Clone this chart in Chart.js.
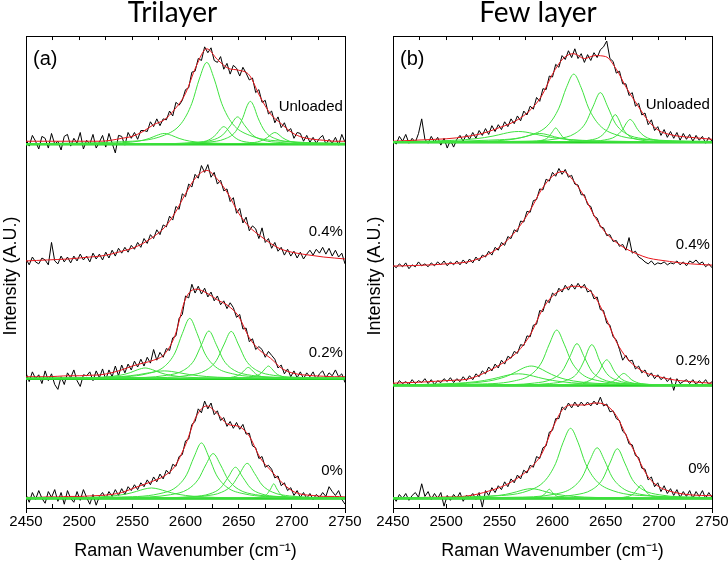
<!DOCTYPE html>
<html>
<head>
<meta charset="utf-8">
<script src="https://cdn.jsdelivr.net/npm/chart.js@4.4.0/dist/chart.umd.min.js"></script>
<style>
  html, body { margin: 0; padding: 0; background: #ffffff; overflow: hidden; }
  #wrap { position: relative; width: 728px; height: 567px; overflow: hidden; }
  canvas { position: absolute; top: 0; }
  #trilayer { left: 0; }
  #fewlayer { left: 364px; }
</style>
</head>
<body>
<div id="wrap">
  <canvas id="trilayer" width="384" height="567"></canvas>
  <canvas id="fewlayer" width="376" height="567"></canvas>
</div>
<script>
// raw spectra are sampled every 3 cm-1, fits every 10 cm-1
var wavenumber = [2450,2453,2456,2459,2462,2465,2468,2471,2474,2477,
    2480,2483,2486,2489,2492,2495,2498,2501,2504,2507,
    2510,2513,2516,2519,2522,2525,2528,2531,2534,2537,
    2540,2543,2546,2549,2552,2555,2558,2561,2564,2567,
    2570,2573,2576,2579,2582,2585,2588,2591,2594,2597,
    2600,2603,2606,2609,2612,2615,2618,2621,2624,2627,
    2630,2633,2636,2639,2642,2645,2648,2651,2654,2657,
    2660,2663,2666,2669,2672,2675,2678,2681,2684,2687,
    2690,2693,2696,2699,2702,2705,2708,2711,2714,2717,
    2720,2723,2726,2729,2732,2735,2738,2741,2744,2747,2750];
var fitWavenumber = [2450,2460,2470,2480,2490,2500,2510,2520,2530,2540,2550,2560,2570,2580,2590,2600,
    2610,2620,2630,2640,2650,2660,2670,2680,2690,2700,2710,2720,2730,2740,2750];

var strainLabels = ['Unloaded', '0.4%', '0.2%', '0%'];
var xTickLabels = [2450, 2500, 2550, 2600, 2650, 2700, 2750];

// vertical offsets of the stacked spectra (A.U.)
var trilayerOffsets = [378, 257, 137, 14];
var fewLayerOffsets = [380, 250, 130, 14];
var trilayerLabelHeights = [38, 31, 27, 28];
var fewLayerLabelHeights = [38, 25, 25, 30];

/* Trilayer */
var triUnloaded = [5,-2,9,3,-5,8,6,-4,11,0,3,-6,8,10,-2,6,1,12,-5,4,0,10,-4,2,9,-3,11,1,-9,9,
    8,-1,12,6,12,5,14,14,13,23,18,26,19,26,25,34,29,43,40,45,56,58,74,75,88,86,100,94,99,86,
    84,90,77,83,72,81,78,70,79,73,66,68,53,56,43,45,31,34,22,28,17,22,13,16,6,12,11,3,9,2,
    7,1,6,9,0,5,1,7,-1,10,2];
var triUnloadedFit = [3,3,3,3,3,3,3,3,4,6,8,13,20,25,36,52,80,98,87,78,76,71,49,31,21,12,7,5,4,3,3];
var triUnloadedPeaks = [
    [[2450,0.1],[2500,0.4],[2540,1.4],[2556,3.1],[2566,5.9],[2573,9],[2580,11],[2587,9],[2594,5.9],[2604,3.1],[2620,1.4],[2660,0.4],[2750,0.1]],
    [[2450,0.6],[2540,2.5],[2580,9.2],[2596,21.3],[2606,42],[2613,67],[2620,84],[2627,67],[2634,42],[2644,21.3],[2660,9.2],[2700,2.5],[2750,1]],
    [[2450,0],[2556,0.2],[2596,0.7],[2612,1.8],[2622,4.4],[2629,10.2],[2633,15.8],[2636,18],[2639,15.8],[2643,10.2],[2650,4.4],[2660,1.8],[2676,0.7],[2716,0.2],[2750,0.1]],
    [[2450,0.1],[2569,0.4],[2609,1.7],[2625,4.1],[2635,9.5],[2642,18.8],[2649,28],[2656,18.8],[2663,9.5],[2673,4.1],[2689,1.7],[2729,0.4],[2750,0.3]],
    [[2450,0.1],[2581,0.6],[2621,2.1],[2637,5.4],[2647,12.8],[2654,27.4],[2658,39.6],[2661,44],[2664,39.6],[2668,27.4],[2675,12.8],[2685,5.4],[2701,2.1],[2741,0.6],[2750,0.4]],
    [[2450,0],[2604,0.1],[2644,0.5],[2660,1.2],[2670,3],[2677,6.8],[2681,10.5],[2684,12],[2687,10.5],[2691,6.8],[2698,3],[2708,1.2],[2724,0.5],[2750,0.2]]
];

var tri04 = [3,-3,5,0,-2,4,2,-3,20,1,-2,6,0,5,-1,6,1,8,2,6,0,9,3,8,2,10,4,12,6,14,
    9,15,10,17,13,20,15,24,19,28,24,33,28,38,36,47,43,57,54,70,67,80,77,90,86,99,92,100,87,92,
    80,84,73,75,62,66,50,55,40,46,32,37,34,24,35,20,24,14,20,11,15,7,13,6,11,4,10,3,8,12,
    7,13,9,15,8,14,6,12,5,9,-2];
var tri04Fit = [1,1.5,2,2.5,3,4,5,6,8,11,14,19,26,35,50,70,87,94,85,70,50,36,27,19,13,10,8,6.5,5,4,3];

var tri02 = [6,-3,7,0,4,-5,8,-2,5,-6,-11,2,-6,6,1,9,-2,-8,4,3,7,-2,8,1,10,-1,9,2,13,3,
    14,6,15,9,18,12,20,13,22,16,30,19,27,22,31,29,42,44,62,66,85,83,97,88,95,87,93,84,89,80,
    85,76,80,72,78,73,63,66,51,52,38,41,30,33,30,22,28,24,20,11,14,5,10,2,8,1,7,0,6,2,
    7,-1,5,8,1,6,3,9,2,5,-4];
var tri02Fit = [2,2,2,2.5,3,3,3.5,4,6,9,13,16,19,25,44,82,92,88,81,75,64,42,29,21,11,6,4,3,2.5,2,2];
var tri02Peaks = [
    [[2450,0.2],[2482,0.4],[2522,1.5],[2538,3.4],[2548,6.2],[2555,9.2],[2562,11],[2569,9.2],[2576,6.2],[2586,3.4],[2602,1.5],[2642,0.4],[2750,0.1]],
    [[2450,0.3],[2500,0.7],[2540,2.2],[2556,4.2],[2566,6.1],[2573,7.4],[2580,8],[2587,7.4],[2594,6.1],[2604,4.2],[2620,2.2],[2660,0.7],[2750,0.2]],
    [[2450,0.4],[2524,1.4],[2564,5.1],[2580,12.4],[2590,26.3],[2597,46.3],[2604,62],[2611,46.3],[2618,26.3],[2628,12.4],[2644,5.1],[2684,1.4],[2750,0.4]],
    [[2450,0.2],[2542,0.9],[2582,3.4],[2598,8.5],[2608,18.7],[2615,34.9],[2622,49],[2629,34.9],[2636,18.7],[2646,8.5],[2662,3.4],[2702,0.9],[2750,0.4]],
    [[2450,0.2],[2563,0.9],[2603,3.4],[2619,8.5],[2629,18.6],[2636,34.6],[2643,48.6],[2650,34.6],[2657,18.6],[2667,8.5],[2683,3.4],[2723,0.9],[2750,0.5]],
    [[2450,0],[2579,0.1],[2619,0.3],[2635,0.7],[2645,1.8],[2652,4.9],[2656,9.3],[2659,11.6],[2662,9.3],[2666,4.9],[2673,1.8],[2683,0.7],[2699,0.3],[2739,0.1],[2750,0]],
    [[2450,0],[2598,0.1],[2638,0.3],[2654,0.8],[2664,2],[2671,5.5],[2675,10.4],[2678,13],[2681,10.4],[2685,5.5],[2692,2],[2702,0.8],[2718,0.3],[2750,0.1]]
];

var tri00 = [4,-4,6,-1,8,0,-5,7,1,9,-3,6,-6,8,0,-4,7,-2,9,1,-6,4,-7,2,6,0,7,2,9,3,
    10,4,12,8,14,9,16,12,19,14,22,17,25,20,29,25,35,33,43,45,59,61,76,79,92,88,100,92,98,86,
    90,80,83,74,79,72,78,71,76,66,67,54,52,41,43,32,34,30,21,23,13,16,8,11,3,8,1,6,0,5,
    -1,4,1,6,2,12,7,3,8,-1,-6];
var tri00Fit = [1,1,1.5,1.5,2,2,2.5,3,4,6,10,14,18,23,33,55,84,95,87,76,74,64,42,29,17,8,4,3,2,2,1.5];
var tri00Peaks = [
    [[2450,0.3],[2488,0.6],[2528,2.1],[2544,4.4],[2554,7.2],[2561,9.5],[2568,10.7],[2575,9.5],[2582,7.2],[2592,4.4],[2608,2.1],[2648,0.6],[2750,0.1]],
    [[2450,0.3],[2535,1.3],[2575,4.7],[2591,11.4],[2601,24.2],[2608,42.5],[2615,57],[2622,42.5],[2629,24.2],[2639,11.4],[2655,4.7],[2695,1.3],[2750,0.5]],
    [[2450,0.2],[2546,1],[2586,3.8],[2602,9.2],[2612,19.5],[2619,34.3],[2626,46],[2633,34.3],[2640,19.5],[2650,9.2],[2666,3.8],[2706,1],[2750,0.4]],
    [[2450,0.1],[2567,0.5],[2607,1.9],[2623,4.7],[2633,10.8],[2640,21.5],[2647,32],[2654,21.5],[2661,10.8],[2671,4.7],[2687,1.9],[2727,0.5],[2750,0.3]],
    [[2450,0.1],[2578,0.7],[2618,2.5],[2634,6.3],[2644,13.8],[2651,25.6],[2658,36],[2665,25.6],[2672,13.8],[2682,6.3],[2698,2.5],[2738,0.7],[2750,0.5]],
    [[2450,0],[2643,0.15],[2659,0.4],[2669,1.1],[2676,3.7],[2680,9.6],[2683,15],[2686,9.6],[2690,3.7],[2697,1.1],[2707,0.4],[2723,0.15],[2750,0.05]]
];

/* Few layer */
var fewUnloaded = [2,-2,6,1,8,-1,4,0,9,24,3,-1,6,0,5,-3,4,-6,2,-5,3,7,1,8,3,10,4,12,7,14,
    8,17,11,18,13,21,16,24,19,27,22,32,28,37,34,46,42,55,54,68,67,80,77,89,85,94,87,96,86,91,
    82,90,84,92,87,95,98,104,86,83,71,73,60,60,48,51,37,40,28,30,18,23,12,16,7,13,5,11,4,10,
    2,9,3,8,1,7,2,6,-1,5,1];
var fewUnloadedFit = [1,1.5,2,2.5,3,3.5,4.5,6,8,11,15,19,25,34,48,70,86,91,86,89,88,75,55,38,22,12,8,6,5,4,3];
var fewUnloadedPeaks = [
    [[2450,0.6],[2488,1.2],[2528,3.6],[2544,6.3],[2554,8.8],[2561,10.4],[2568,11],[2575,10.4],[2582,8.8],[2592,6.3],[2608,3.6],[2648,1.2],[2750,0.3]],
    [[2450,0.2],[2508,0.4],[2548,1.5],[2564,3.2],[2574,5.6],[2581,7.8],[2588,9],[2595,7.8],[2602,5.6],[2612,3.2],[2628,1.5],[2668,0.4],[2750,0.1]],
    [[2450,0],[2563,0.2],[2579,0.6],[2589,1.7],[2596,5],[2600,10.8],[2603,14.7],[2606,10.8],[2610,5],[2617,1.7],[2627,0.6],[2643,0.2],[2750,0]],
    [[2450,0.5],[2540,2.1],[2580,7.6],[2596,17.8],[2606,35],[2613,56],[2620,70],[2627,56],[2634,35],[2644,17.8],[2660,7.6],[2700,2.1],[2750,0.8]],
    [[2450,0.2],[2565,0.9],[2605,3.6],[2621,8.9],[2631,19.5],[2638,36.3],[2645,51],[2652,36.3],[2659,19.5],[2669,8.9],[2685,3.6],[2725,0.9],[2750,0.6]],
    [[2450,0],[2579,0.2],[2619,0.9],[2635,2.2],[2645,5.7],[2652,14.2],[2656,24],[2659,28.4],[2662,24],[2666,14.2],[2673,5.7],[2683,2.2],[2699,0.9],[2739,0.2],[2750,0.2]],
    [[2450,0],[2593,0.2],[2633,0.9],[2649,2.3],[2659,5.8],[2666,13.2],[2670,20.5],[2673,23.4],[2676,20.5],[2680,13.2],[2687,5.8],[2697,2.3],[2713,0.9],[2750,0.3]]
];

var few04 = [4,1,5,2,6,0,4,2,7,3,5,2,6,3,7,4,8,3,7,4,8,4,9,5,10,6,12,8,14,12,
    18,14,22,19,27,24,33,31,40,38,49,48,59,58,70,71,82,81,92,90,99,95,103,97,102,94,96,87,86,76,
    76,66,64,54,52,43,42,34,35,28,29,23,25,19,32,16,18,12,10,7,5,8,4,6,5,7,4,6,5,8,
    4,7,3,8,6,9,5,7,2,5,1];
var few04Fit = [2.7,3,3.3,3.7,4.2,5,5.7,7,10,15,22,32,45,62,82,95,100,90,74,53,37,27,20,15,11,9,7.5,6,5,4.3,3.7];

var few02 = [3,0,5,2,4,1,6,2,5,3,7,2,6,1,5,3,7,4,8,3,7,4,9,5,10,6,12,9,15,12,
    19,15,22,18,26,22,30,28,35,33,42,41,51,50,62,63,77,76,88,85,95,92,100,96,103,98,104,99,105,100,
    104,96,98,89,91,78,77,64,62,50,47,37,26,31,25,26,17,20,13,16,9,13,7,11,6,9,4,8,-5,7,
    2,4,6,2,6,1,5,2,6,1,4];
var few02Fit = [2.4,2.8,3.2,3.7,4.3,5,5.5,6.5,10,15,21,28,38,54,77,92,99,102,101,91,70,45,28,18,12,9,6.5,5,4,3,2.4];
var few02Peaks = [
    [[2450,0.6],[2488,1.3],[2528,3.9],[2544,6.9],[2554,9.6],[2561,11.3],[2568,12],[2575,11.3],[2582,9.6],[2592,6.9],[2608,3.9],[2648,1.3],[2750,0.3]],
    [[2450,0.6],[2500,1.4],[2540,4.6],[2556,9.1],[2566,14.2],[2573,18.2],[2580,20],[2587,18.2],[2594,14.2],[2604,9.1],[2620,4.6],[2660,1.4],[2750,0.3]],
    [[2450,0.3],[2524,1.3],[2564,4.7],[2580,11.4],[2590,24.2],[2597,42.5],[2604,57],[2611,42.5],[2618,24.2],[2628,11.4],[2644,4.7],[2684,1.3],[2750,0.4]],
    [[2450,0.1],[2543,0.6],[2583,2.5],[2599,6.4],[2609,14.5],[2616,28.9],[2623,43],[2630,28.9],[2637,14.5],[2647,6.4],[2663,2.5],[2703,0.6],[2750,0.2]],
    [[2450,0.1],[2557,0.5],[2597,2],[2613,5.2],[2623,12.3],[2630,26.2],[2634,37.8],[2637,42],[2640,37.8],[2644,26.2],[2651,12.3],[2661,5.2],[2677,2],[2717,0.5],[2750,0.3]],
    [[2450,0],[2571,0.3],[2611,1],[2627,2.6],[2637,6.5],[2644,14.9],[2648,23.2],[2651,26.4],[2654,23.2],[2658,14.9],[2665,6.5],[2675,2.6],[2691,1],[2731,0.3],[2750,0.2]],
    [[2450,0],[2587,0.1],[2627,0.4],[2643,1],[2653,2.5],[2660,6.2],[2664,10.5],[2667,12.4],[2670,10.5],[2674,6.2],[2681,2.5],[2691,1],[2707,0.4],[2750,0.1]]
];

var few00 = [2,-3,4,0,5,-2,3,6,1,15,2,7,-1,5,0,6,-8,3,-2,4,0,6,-3,3,1,5,-1,6,-9,8,
    3,11,6,13,9,17,12,20,16,24,20,29,26,34,32,43,41,52,54,68,70,82,82,94,91,98,93,99,94,99,
    95,99,95,100,96,104,95,97,89,90,82,80,69,66,56,55,44,42,31,30,19,22,12,16,7,13,5,10,3,9,
    1,7,2,8,0,7,2,8,0,6,1];
var few00Fit = [0.5,0.7,0.9,1,1.2,1.4,1.6,2.5,4.5,7.5,11,16,23,32,46,72,92,96,96,98,96,85,63,42,22,12,7.5,5,3.6,3,2.7];
var few00Peaks = [
    [[2450,0.2],[2500,0.6],[2540,2],[2556,4.1],[2566,6.7],[2573,8.9],[2580,10],[2587,8.9],[2594,6.7],[2604,4.1],[2620,2],[2660,0.6],[2750,0.1]],
    [[2450,0],[2557,0.1],[2573,0.25],[2583,0.7],[2590,2.3],[2594,6],[2597,9.4],[2600,6],[2604,2.3],[2611,0.7],[2621,0.25],[2637,0.1],[2750,0]],
    [[2450,0.5],[2537,2.2],[2577,7.8],[2593,18.3],[2603,36],[2610,57.6],[2617,72],[2624,57.6],[2631,36],[2641,18.3],[2657,7.8],[2697,2.2],[2750,0.8]],
    [[2450,0.2],[2562,1.1],[2602,4.3],[2618,10.4],[2628,22],[2635,38.8],[2642,52],[2649,38.8],[2656,22],[2666,10.4],[2682,4.3],[2722,1.1],[2750,0.6]],
    [[2450,0.1],[2581,0.9],[2621,3.6],[2637,8.9],[2647,19.5],[2654,36.3],[2661,51],[2668,36.3],[2675,19.5],[2685,8.9],[2701,3.6],[2741,0.9],[2750,0.7]],
    [[2450,0],[2643,0.2],[2659,0.6],[2669,1.5],[2676,4.5],[2680,9.8],[2683,13.4],[2686,9.8],[2690,4.5],[2697,1.5],[2707,0.6],[2723,0.2],[2750,0.05]]
];

Chart.defaults.font.family = '"Liberation Sans", Arial, sans-serif';
Chart.defaults.color = '#000000';

function shifted(xs, ys, offset) {
    return ys.map(function (y, i) { return { x: xs[i], y: y + offset }; });
}

function buildDatasets(spectra, offsets) {
    var sets = [];
    spectra.forEach(function (s, k) {
        var off = offsets[k];
        sets.push({ data: shifted(wavenumber, s[0], off), borderColor: '#000000', borderWidth: 1, order: 3 });
        sets.push({ data: shifted(fitWavenumber, s[1], off), borderColor: '#e8161c', borderWidth: 1,
            cubicInterpolationMode: 'monotone', order: 2 });
        s[2].forEach(function (peak) {
            sets.push({
                data: peak.map(function (p) { return { x: p[0], y: p[1] + off }; }),
                borderColor: '#3ee23e', borderWidth: 1, cubicInterpolationMode: 'monotone', order: 1
            });
        });
        if (s[2].length) {
            sets.push({ data: [{ x: 2450, y: off }, { x: 2750, y: off }], borderColor: '#20d020', borderWidth: 2.5, order: 1 });
        }
    });
    return sets;
}

var panelLabels = {
    id: 'panelLabels',
    afterDatasetsDraw: function (chart, args, opts) {
        var ctx = chart.ctx;
        var xs = chart.scales.x, ys = chart.scales.y;
        ctx.save();
        ctx.fillStyle = '#000000';
        ctx.font = '15px "Liberation Sans", Arial, sans-serif';
        ctx.textAlign = 'right';
        ctx.textBaseline = 'middle';
        opts.offsets.forEach(function (off, i) {
            ctx.fillText(strainLabels[i], xs.getPixelForValue(2748), ys.getPixelForValue(off + opts.heights[i]));
        });
        ctx.font = '20px "Liberation Sans", Arial, sans-serif';
        ctx.textAlign = 'left';
        ctx.fillText(opts.letter, chart.chartArea.left + 7, chart.chartArea.top + 19);
        ctx.restore();
    }
};

function makeChart(id, title, spectra, offsets, heights, letter, yTitlePad, rightPad) {
    var ctx = document.getElementById(id).getContext('2d');
    return new Chart(ctx, {
        type: 'line',
        data: { datasets: buildDatasets(spectra, offsets) },
        plugins: [panelLabels],
        options: {
            responsive: false,
            animation: false,
            devicePixelRatio: 1,
            elements: { point: { radius: 0 }, line: { fill: false, tension: 0 } },
            layout: { padding: { left: 0, right: rightPad, top: 0, bottom: 1.4 } },
            plugins: {
                legend: { display: false },
                tooltip: { enabled: false },
                title: {
                    display: true,
                    text: title,
                    color: '#000000',
                    font: { family: 'Lato', size: 28, weight: 'normal', lineHeight: 0.93 },
                    padding: { top: 0, bottom: 14 }
                },
                panelLabels: { offsets: offsets, heights: heights, letter: letter }
            },
            scales: {
                x: {
                    type: 'linear',
                    position: 'bottom',
                    min: 2450,
                    max: 2750,
                    border: { display: true, color: '#000000', width: 1 },
                    grid: { drawOnChartArea: false, tickLength: -4, tickColor: '#000000' },
                    ticks: {
                        stepSize: 25,
                        autoSkip: false,
                        maxRotation: 0,
                        padding: 9,
                        color: '#000000',
                        font: { size: 15 },
                        callback: function (value) {
                            return xTickLabels.indexOf(value) >= 0 ? String(value) : '';
                        }
                    },
                    title: {
                        display: true,
                        text: 'Raman Wavenumber (cm\u207B\u00B9)',
                        color: '#000000',
                        font: { size: 18 },
                        padding: { top: 0, bottom: 0 }
                    }
                },
                xTop: {
                    type: 'linear',
                    position: 'top',
                    min: 2450,
                    max: 2750,
                    border: { display: true, color: '#000000', width: 1 },
                    grid: { drawOnChartArea: false, tickLength: -4, tickColor: '#000000' },
                    ticks: { stepSize: 25, display: false }
                },
                y: {
                    type: 'linear',
                    position: 'left',
                    min: 0,
                    max: 485,
                    border: { display: true, color: '#000000', width: 1 },
                    grid: { drawOnChartArea: false, drawTicks: false },
                    ticks: { display: false },
                    title: {
                        display: true,
                        text: 'Intensity (A.U.)',
                        color: '#000000',
                        font: { size: 18 },
                        padding: { top: 0, bottom: yTitlePad }
                    }
                },
                yRight: {
                    type: 'linear',
                    position: 'right',
                    min: 0,
                    max: 485,
                    border: { display: true, color: '#000000', width: 1 },
                    grid: { drawOnChartArea: false, drawTicks: false },
                    ticks: { display: false }
                }
            }
        }
    });
}

makeChart('trilayer', 'Trilayer', [
    [triUnloaded, triUnloadedFit, triUnloadedPeaks],
    [tri04, tri04Fit, []],
    [tri02, tri02Fit, tri02Peaks],
    [tri00, tri00Fit, tri00Peaks]
], trilayerOffsets, trilayerLabelHeights, '(a)', 4.4, 39);

makeChart('fewlayer', 'Few layer', [
    [fewUnloaded, fewUnloadedFit, fewUnloadedPeaks],
    [few04, few04Fit, []],
    [few02, few02Fit, few02Peaks],
    [few00, few00Fit, few00Peaks]
], fewLayerOffsets, fewLayerLabelHeights, '(b)', 7.4, 28);
</script>
</body>
</html>
